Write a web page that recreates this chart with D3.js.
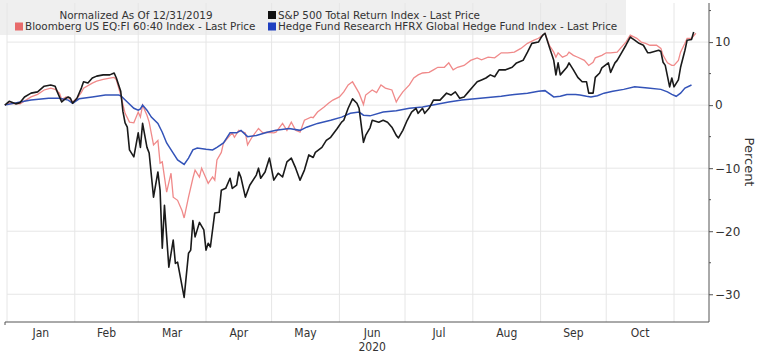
<!DOCTYPE html>
<html>
<head>
<meta charset="utf-8">
<script src="https://cdn.jsdelivr.net/npm/d3@7"></script>
<style>
  html, body { margin: 0; padding: 0; background: #fff; }
  svg { display: block; font-family: 'DejaVu Sans', sans-serif; }
</style>
</head>
<body>
<div id="chart"></div>
<script>
// values, percent change since 12/31/2019
const spx = [
  ['2019-12-31', 0], ['2020-01-02', 0.6], ['2020-01-05', 0.2], ['2020-01-07', 0.4], ['2020-01-09', 1.3],
  ['2020-01-12', 1.9], ['2020-01-15', 2.1], ['2020-01-18', 3.0], ['2020-01-21', 3.2], ['2020-01-23', 3.0],
  ['2020-01-24', 2.1], ['2020-01-26', 0.5], ['2020-01-28', 1.1], ['2020-01-29', 1.3], ['2020-01-30', 1.1],
  ['2020-01-31', 0.3], ['2020-02-02', 1.1], ['2020-02-04', 2.7], ['2020-02-05', 3.7], ['2020-02-07', 3.5],
  ['2020-02-09', 4.3], ['2020-02-11', 4.6], ['2020-02-14', 4.8], ['2020-02-17', 4.8], ['2020-02-19', 5.1],
  ['2020-02-20', 4.3], ['2020-02-22', 2.2], ['2020-02-23', -1.0], ['2020-02-24', -2.8], ['2020-02-25', -3.5],
  ['2020-02-26', -7.1], ['2020-02-28', -8.2], ['2020-03-01', -4.4], ['2020-03-02', -6.7], ['2020-03-03', -2.9],
  ['2020-03-05', -6.7], ['2020-03-06', -7.6], ['2020-03-08', -14.6], ['2020-03-10', -10.6], ['2020-03-11', -13.5],
  ['2020-03-12', -22.7], ['2020-03-13', -15.9], ['2020-03-15', -25.7], ['2020-03-17', -21.4], ['2020-03-18', -25.1],
  ['2020-03-19', -24.9], ['2020-03-22', -30.5], ['2020-03-24', -23.5], ['2020-03-25', -23.0], ['2020-03-26', -18.3],
  ['2020-03-27', -20.9], ['2020-03-29', -18.6], ['2020-03-31', -19.8], ['2020-04-01', -23.0], ['2020-04-02', -21.9],
  ['2020-04-03', -22.5], ['2020-04-05', -17.1], ['2020-04-07', -17.0], ['2020-04-08', -13.5], ['2020-04-10', -13.2],
  ['2020-04-12', -11.6], ['2020-04-13', -13.2], ['2020-04-15', -12.7], ['2020-04-16', -10.6], ['2020-04-17', -11.5],
  ['2020-04-19', -14.6], ['2020-04-21', -12.7], ['2020-04-24', -11.1], ['2020-04-25', -10.0], ['2020-04-26', -11.6],
  ['2020-04-28', -10.6], ['2020-04-30', -8.4], ['2020-05-02', -11.9], ['2020-05-04', -10.8], ['2020-05-06', -11.4],
  ['2020-05-08', -9.0], ['2020-05-10', -8.4], ['2020-05-12', -10.0], ['2020-05-14', -11.9], ['2020-05-16', -10.3],
  ['2020-05-18', -7.9], ['2020-05-20', -8.3], ['2020-05-21', -7.5], ['2020-05-24', -6.7], ['2020-05-26', -5.6],
  ['2020-05-28', -5.1], ['2020-05-31', -3.7], ['2020-06-02', -2.7], ['2020-06-03', -2.4], ['2020-06-05', -0.5],
  ['2020-06-07', 1.0], ['2020-06-09', 0.3], ['2020-06-10', -0.5], ['2020-06-12', -5.9], ['2020-06-13', -4.8],
  ['2020-06-15', -3.6], ['2020-06-16', -2.4], ['2020-06-19', -2.7], ['2020-06-21', -2.4], ['2020-06-23', -2.7],
  ['2020-06-25', -3.5], ['2020-06-27', -4.8], ['2020-06-28', -5.2], ['2020-06-30', -4.0], ['2020-07-02', -2.4],
  ['2020-07-04', -1.1], ['2020-07-06', -0.5], ['2020-07-07', -1.3], ['2020-07-09', -0.5], ['2020-07-10', -1.3],
  ['2020-07-12', -0.5], ['2020-07-14', 0.8], ['2020-07-15', 0.8], ['2020-07-17', 0.8], ['2020-07-20', 1.9],
  ['2020-07-22', 1.6], ['2020-07-24', 2.1], ['2020-07-26', 1.1], ['2020-07-28', 1.3], ['2020-07-30', 2.1],
  ['2020-08-01', 2.9], ['2020-08-03', 3.7], ['2020-08-05', 4.0], ['2020-08-07', 4.3], ['2020-08-09', 4.8],
  ['2020-08-11', 4.5], ['2020-08-13', 5.6], ['2020-08-16', 5.6], ['2020-08-19', 6.0], ['2020-08-21', 6.7],
  ['2020-08-24', 7.1], ['2020-08-26', 8.4], ['2020-08-28', 9.8], ['2020-08-31', 10.0], ['2020-09-01', 10.6],
  ['2020-09-02', 11.1], ['2020-09-03', 11.4], ['2020-09-05', 9.2], ['2020-09-07', 7.1], ['2020-09-08', 4.8],
  ['2020-09-09', 6.7], ['2020-09-10', 4.8], ['2020-09-13', 6.0], ['2020-09-14', 6.7], ['2020-09-16', 5.6],
  ['2020-09-18', 4.4], ['2020-09-20', 3.7], ['2020-09-22', 3.7], ['2020-09-23', 1.9], ['2020-09-25', 1.9],
  ['2020-09-26', 4.4], ['2020-09-28', 5.1], ['2020-09-29', 5.9], ['2020-10-02', 6.7], ['2020-10-03', 5.2],
  ['2020-10-05', 6.7], ['2020-10-06', 7.1], ['2020-10-08', 8.3], ['2020-10-10', 9.5], ['2020-10-12', 10.8],
  ['2020-10-14', 10.3], ['2020-10-16', 9.8], ['2020-10-18', 9.5], ['2020-10-20', 8.3], ['2020-10-21', 8.3],
  ['2020-10-23', 8.5], ['2020-10-25', 8.7], ['2020-10-26', 8.5], ['2020-10-27', 6.8], ['2020-10-28', 6.3],
  ['2020-10-30', 2.9], ['2020-10-31', 4.3], ['2020-11-01', 2.9], ['2020-11-03', 4.0], ['2020-11-04', 6.0],
  ['2020-11-06', 8.7], ['2020-11-07', 10.3], ['2020-11-09', 10.4], ['2020-11-10', 11.6]
]

const sixtyForty = [
  ['2019-12-31', 0], ['2020-01-02', 0.3], ['2020-01-07', 0.2], ['2020-01-12', 1.3], ['2020-01-15', 1.7],
  ['2020-01-18', 2.4], ['2020-01-21', 2.7], ['2020-01-23', 2.5], ['2020-01-25', 1.9], ['2020-01-26', 0.9],
  ['2020-01-28', 1.3], ['2020-01-29', 1.2], ['2020-01-31', 0.5], ['2020-02-02', 1.1], ['2020-02-04', 2.0],
  ['2020-02-05', 2.7], ['2020-02-09', 3.5], ['2020-02-11', 3.8], ['2020-02-14', 4.1], ['2020-02-17', 4.3],
  ['2020-02-19', 4.4], ['2020-02-20', 4.0], ['2020-02-22', 1.6], ['2020-02-24', -1.3], ['2020-02-26', -2.7],
  ['2020-02-28', -2.8], ['2020-03-01', -1.1], ['2020-03-02', -1.9], ['2020-03-03', 0.0], ['2020-03-05', -1.6],
  ['2020-03-06', -2.7], ['2020-03-08', -6.3], ['2020-03-10', -5.6], ['2020-03-11', -9.2], ['2020-03-12', -9.0],
  ['2020-03-14', -13.8], ['2020-03-16', -10.8], ['2020-03-17', -14.6], ['2020-03-19', -15.1], ['2020-03-21', -16.7],
  ['2020-03-22', -17.9], ['2020-03-24', -14.6], ['2020-03-26', -11.6], ['2020-03-27', -10.3], ['2020-03-29', -11.4],
  ['2020-03-30', -10.0], ['2020-04-01', -11.6], ['2020-04-02', -12.4], ['2020-04-04', -11.4], ['2020-04-05', -11.9],
  ['2020-04-06', -8.7], ['2020-04-08', -7.5], ['2020-04-09', -6.0], ['2020-04-11', -5.2], ['2020-04-13', -4.4],
  ['2020-04-14', -5.1], ['2020-04-16', -4.0], ['2020-04-19', -4.4], ['2020-04-20', -6.3], ['2020-04-22', -5.1],
  ['2020-04-25', -3.7], ['2020-04-27', -4.4], ['2020-04-29', -4.3], ['2020-05-02', -4.4], ['2020-05-03', -4.3],
  ['2020-05-06', -2.9], ['2020-05-08', -4.0], ['2020-05-10', -2.7], ['2020-05-12', -4.0], ['2020-05-14', -4.3],
  ['2020-05-16', -2.4], ['2020-05-19', -1.9], ['2020-05-20', -2.0], ['2020-05-22', -1.1], ['2020-05-25', -0.3],
  ['2020-05-27', 0.3], ['2020-05-29', 0.8], ['2020-06-01', 1.3], ['2020-06-03', 2.1], ['2020-06-05', 3.2],
  ['2020-06-07', 3.7], ['2020-06-10', 1.9], ['2020-06-12', 0.1], ['2020-06-13', 1.6], ['2020-06-16', 2.4],
  ['2020-06-18', 2.0], ['2020-06-20', 3.2], ['2020-06-22', 2.7], ['2020-06-25', 2.4], ['2020-06-27', 0.5],
  ['2020-06-28', 1.1], ['2020-06-30', 2.1], ['2020-07-03', 3.2], ['2020-07-05', 4.3], ['2020-07-07', 4.8],
  ['2020-07-09', 5.1], ['2020-07-12', 5.2], ['2020-07-14', 5.6], ['2020-07-16', 6.0], ['2020-07-19', 6.0],
  ['2020-07-21', 6.7], ['2020-07-23', 5.6], ['2020-07-25', 6.0], ['2020-07-28', 6.3], ['2020-07-31', 7.1],
  ['2020-08-03', 7.5], ['2020-08-05', 7.2], ['2020-08-08', 7.6], ['2020-08-11', 7.5], ['2020-08-14', 8.3],
  ['2020-08-17', 8.3], ['2020-08-20', 8.4], ['2020-08-23', 9.0], ['2020-08-26', 9.8], ['2020-08-29', 10.3],
  ['2020-08-31', 10.6], ['2020-09-02', 11.1], ['2020-09-03', 11.4], ['2020-09-05', 9.5], ['2020-09-07', 8.4],
  ['2020-09-08', 7.6], ['2020-09-09', 8.3], ['2020-09-11', 7.6], ['2020-09-13', 7.9], ['2020-09-14', 8.4],
  ['2020-09-16', 7.9], ['2020-09-18', 7.6], ['2020-09-21', 7.1], ['2020-09-23', 6.3], ['2020-09-25', 6.8],
  ['2020-09-26', 7.5], ['2020-09-29', 7.9], ['2020-10-01', 8.3], ['2020-10-03', 8.3], ['2020-10-06', 8.4],
  ['2020-10-08', 9.2], ['2020-10-10', 10.0], ['2020-10-12', 11.1], ['2020-10-15', 10.6], ['2020-10-17', 10.0],
  ['2020-10-19', 9.8], ['2020-10-21', 9.5], ['2020-10-24', 9.5], ['2020-10-26', 9.0], ['2020-10-27', 7.9],
  ['2020-10-29', 6.7], ['2020-10-31', 6.3], ['2020-11-01', 6.3], ['2020-11-03', 7.1], ['2020-11-04', 8.4],
  ['2020-11-06', 9.8], ['2020-11-07', 10.6], ['2020-11-09', 10.6], ['2020-11-11', 11.4]
]

const hfrx = [
  ['2019-12-31', 0], ['2020-01-07', 0.5], ['2020-01-12', 0.8], ['2020-01-20', 1.1], ['2020-01-25', 1.1],
  ['2020-01-29', 0.8], ['2020-01-31', 0.3], ['2020-02-03', 1.0], ['2020-02-09', 1.3], ['2020-02-15', 1.6],
  ['2020-02-21', 1.6], ['2020-02-22', 1.5], ['2020-02-25', 0.5], ['2020-02-28', -0.5], ['2020-03-01', -0.8],
  ['2020-03-02', -0.6], ['2020-03-03', 0.0], ['2020-03-05', -0.8], ['2020-03-07', -1.9], ['2020-03-10', -2.9],
  ['2020-03-12', -4.3], ['2020-03-14', -6.0], ['2020-03-17', -7.6], ['2020-03-19', -8.7], ['2020-03-22', -9.4],
  ['2020-03-24', -8.4], ['2020-03-26', -7.1], ['2020-03-28', -6.8], ['2020-04-01', -7.0], ['2020-04-04', -7.1],
  ['2020-04-06', -6.7], ['2020-04-09', -6.0], ['2020-04-12', -4.4], ['2020-04-15', -4.4], ['2020-04-17', -4.0],
  ['2020-04-20', -5.0], ['2020-04-24', -4.8], ['2020-04-29', -4.3], ['2020-05-03', -4.0], ['2020-05-09', -3.7],
  ['2020-05-14', -4.0], ['2020-05-17', -3.5], ['2020-05-22', -2.9], ['2020-05-28', -2.4], ['2020-06-02', -1.9],
  ['2020-06-06', -1.3], ['2020-06-10', -1.1], ['2020-06-12', -1.6], ['2020-06-15', -1.7], ['2020-06-21', -1.1],
  ['2020-06-27', -0.9], ['2020-07-03', -0.5], ['2020-07-09', -0.3], ['2020-07-15', 0.1], ['2020-07-21', 0.5],
  ['2020-07-27', 0.8], ['2020-08-02', 1.0], ['2020-08-08', 1.2], ['2020-08-14', 1.4], ['2020-08-20', 1.7],
  ['2020-08-26', 1.9], ['2020-08-31', 2.2], ['2020-09-03', 2.3], ['2020-09-07', 1.3], ['2020-09-10', 1.4],
  ['2020-09-13', 1.7], ['2020-09-17', 1.7], ['2020-09-19', 1.6], ['2020-09-22', 1.4], ['2020-09-24', 1.3],
  ['2020-09-27', 1.5], ['2020-09-30', 1.9], ['2020-10-04', 2.2], ['2020-10-09', 2.5], ['2020-10-14', 2.9],
  ['2020-10-20', 2.7], ['2020-10-26', 2.5], ['2020-10-29', 2.1], ['2020-10-31', 1.7], ['2020-11-02', 1.4],
  ['2020-11-04', 1.9], ['2020-11-06', 2.7], ['2020-11-09', 3.2]
]

const monthLabels = ['Jan', 'Feb', 'Mar', 'Apr', 'May', 'Jun', 'Jul', 'Aug', 'Sep', 'Oct']
const yearLabel = '2020'
const yTicks = [-30, -20, -10, 0, 10]
const yMinorTicks = [-25, -15, -5, 5, 15]

const legendTitle = 'Normalized As Of 12/31/2019'
const legendItems = [
  { name: 'S&P 500 Total Return Index - Last Price', color: '#111111', col: 1, row: 0 },
  { name: 'Bloomberg US EQ:FI 60:40 Index - Last Price', color: '#e86b6b', col: 0, row: 1 },
  { name: 'Hedge Fund Research HFRX Global Hedge Fund Index - Last Price', color: '#1f3fc0', col: 1, row: 1 },
]

const width = 760
const height = 354
const margin = { top: 3, right: 51, bottom: 32, left: 7 }
const parse = d3.timeParse('%Y-%m-%d')

const x = d3
  .scaleTime()
  .domain([new Date(2020, 0, 1), new Date(2020, 10, 17)])
  .range([margin.left, width - margin.right])

const y = d3
  .scaleLinear()
  .domain([-34.4, 16.2])
  .range([height - margin.bottom, margin.top])

const svg = d3
  .select('#chart')
  .append('svg')
  .attr('width', width)
  .attr('height', height)

// legend box sits behind the plot
svg.append('rect').attr('x', 0).attr('y', 0).attr('width', 626).attr('height', 35).attr('fill', '#efefef')

const monthStarts = d3.timeMonth.range(new Date(2020, 0, 1), new Date(2020, 10, 2))

// grid
svg
  .append('g')
  .selectAll('line')
  .data(monthStarts)
  .join('line')
  .attr('x1', (d) => x(d))
  .attr('x2', (d) => x(d))
  .attr('y1', margin.top)
  .attr('y2', height - margin.bottom)
  .attr('stroke', '#e6e6e6')
  .attr('stroke-width', 1)

svg
  .append('g')
  .selectAll('line')
  .data(yTicks)
  .join('line')
  .attr('x1', margin.left)
  .attr('x2', width - margin.right)
  .attr('y1', (d) => y(d))
  .attr('y2', (d) => y(d))
  .attr('stroke', '#e6e6e6')
  .attr('stroke-width', 1)

// legend text
const legend = svg.append('g').attr('font-size', 10.4).attr('fill', '#333')
legend.append('text').attr('x', 136).attr('y', 18.5).attr('text-anchor', 'middle').text(legendTitle)
const colX = [15, 268]
const rowY = [18.5, 30]
legendItems.forEach((d) => {
  legend
    .append('rect')
    .attr('x', colX[d.col])
    .attr('y', rowY[d.row] - 7.5)
    .attr('width', 8)
    .attr('height', 8)
    .attr('fill', d.color)
  legend
    .append('text')
    .attr('x', colX[d.col] + 10)
    .attr('y', rowY[d.row])
    .text(d.name)
})

// lines
const line = d3
  .line()
  .x((d) => x(parse(d[0])))
  .y((d) => y(d[1]))

svg.append('path').datum(sixtyForty).attr('d', line).attr('fill', 'none').attr('stroke', '#f08a8a').attr('stroke-width', 1.3)
svg.append('path').datum(hfrx).attr('d', line).attr('fill', 'none').attr('stroke', '#3353b8').attr('stroke-width', 1.5)
svg.append('path').datum(spx).attr('d', line).attr('fill', 'none').attr('stroke', '#1a1a1a').attr('stroke-width', 1.6).attr('stroke-linejoin', 'round')

// bottom axis
const axisColor = '#555'
svg
  .append('line')
  .attr('x1', margin.left - 2)
  .attr('x2', width - margin.right)
  .attr('y1', height - margin.bottom)
  .attr('y2', height - margin.bottom)
  .attr('stroke', axisColor)
svg
  .append('line')
  .attr('x1', margin.left - 2)
  .attr('x2', margin.left - 2)
  .attr('y1', height - margin.bottom)
  .attr('y2', height - margin.bottom + 3)
  .attr('stroke', axisColor)

svg
  .append('g')
  .attr('font-size', 12)
  .attr('fill', '#333')
  .attr('font-family', "'DejaVu Sans Condensed', 'DejaVu Sans', sans-serif")
  .style('font-stretch', 'condensed')
  .selectAll('text')
  .data(monthLabels)
  .join('text')
  .attr('x', (d, i) => (x(monthStarts[i]) + x(monthStarts[i + 1])) / 2)
  .attr('y', height - margin.bottom + 15)
  .attr('text-anchor', 'middle')
  .text((d) => d)

svg
  .append('text')
  .attr('x', (x(monthStarts[5]) + x(monthStarts[6])) / 2)
  .attr('y', height - margin.bottom + 29)
  .attr('text-anchor', 'middle')
  .attr('font-size', 12)
  .attr('fill', '#333')
  .attr('font-family', "'DejaVu Sans Condensed', 'DejaVu Sans', sans-serif")
  .style('font-stretch', 'condensed')
  .text(yearLabel)

// right axis
const axisR = d3.axisRight(y).tickValues(yTicks).tickSize(4).tickPadding(2)
const gR = svg
  .append('g')
  .attr('transform', `translate(${width - margin.right},0)`)
  .call(axisR)
gR.select('.domain').remove()
gR.selectAll('.tick line').attr('stroke', axisColor)
gR.selectAll('.tick text').attr('fill', '#333').attr('font-size', 12).attr('font-family', "'DejaVu Sans', sans-serif")
gR.append('line').attr('y1', margin.top).attr('y2', height - margin.bottom).attr('stroke', axisColor)
gR
  .selectAll('.minor')
  .data(yMinorTicks)
  .join('line')
  .attr('class', 'minor')
  .attr('x2', 2)
  .attr('y1', (d) => y(d))
  .attr('y2', (d) => y(d))
  .attr('stroke', axisColor)

svg
  .append('text')
  .attr('transform', `translate(745,162) rotate(90)`)
  .attr('text-anchor', 'middle')
  .attr('font-size', 13)
  .attr('fill', '#333')
  .text('Percent')
</script>
</body>
</html>
